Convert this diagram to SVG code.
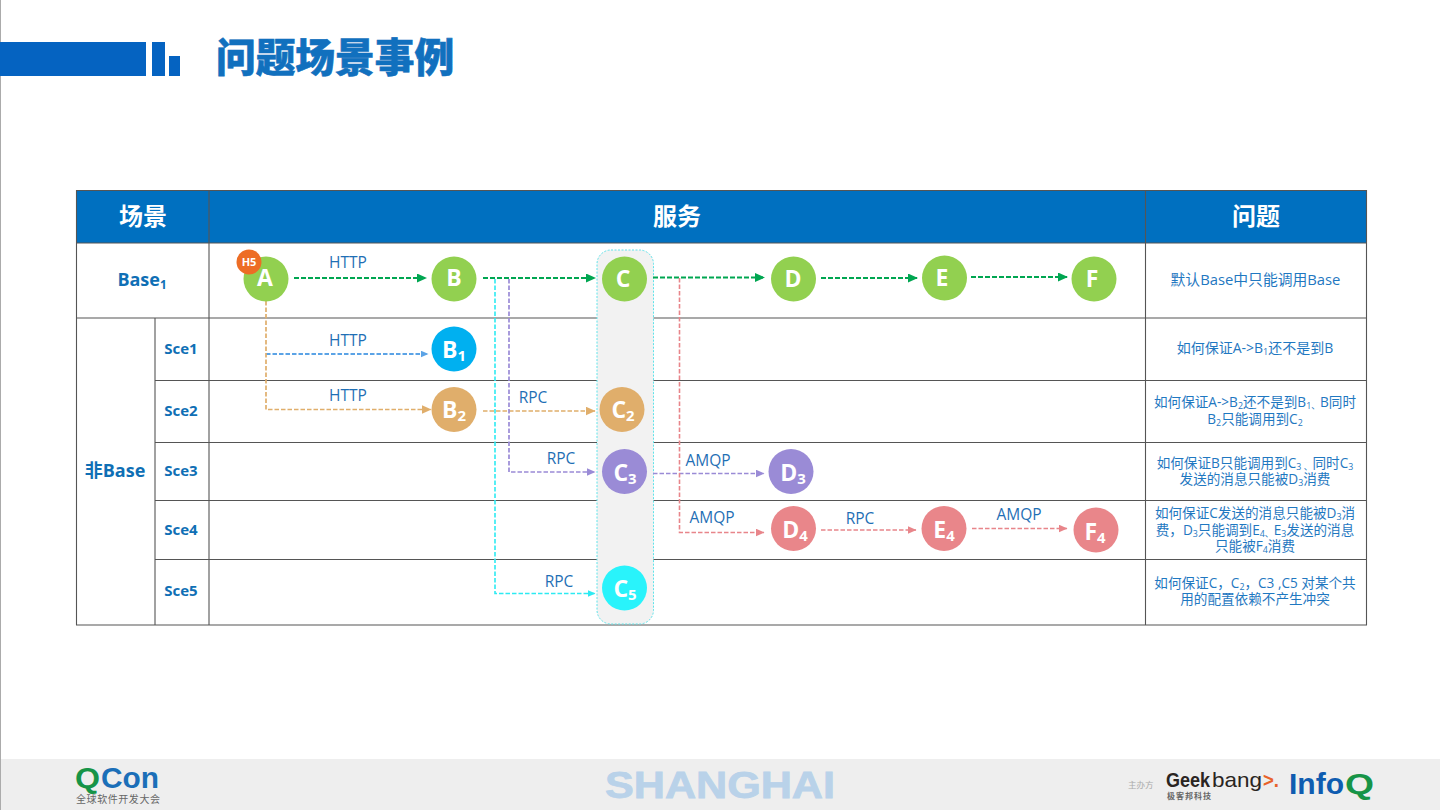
<svg xmlns="http://www.w3.org/2000/svg" width="1440" height="810" viewBox="0 0 1440 810">
<style>
text{font-family:"Open Sans","Noto Sans CJK SC",sans-serif}
.grid{stroke:#555;stroke-width:1.1;fill:none}
.th{fill:#fff;font-size:24px;font-weight:700;text-anchor:middle;font-family:"Noto Sans CJK SC",sans-serif}
.rowh{fill:#0F6FB5;font-size:15px;font-weight:700;text-anchor:middle}
.lab{fill:#1F6FB5;font-size:15.5px;text-anchor:middle}
.q{fill:#1F78C1;font-size:13.6px;text-anchor:middle;font-family:"Open Sans","Noto Sans CJK SC",sans-serif}
.n{fill:#fff;font-size:23px;font-weight:700;text-anchor:middle}
.s{font-size:65%;baseline-shift:-22%}
.logo{font-family:"Liberation Sans",sans-serif;font-weight:700}
.cjk{font-family:"Noto Sans CJK SC",sans-serif}
.c{fill:none;stroke-width:1.5;stroke-dasharray:4.500 2}
.g{stroke:#00A651;stroke-width:2;stroke-dasharray:5 2}.b{stroke:#5BA3E6;stroke-width:1.8}.o{stroke:#E0AE6B;stroke-width:1.7}.p{stroke:#9A8BD6;stroke-width:1.7}.r{stroke:#E8858A;stroke-width:1.6}.y{stroke:#2DEAF2;stroke-width:1.6}
</style>
<defs>
<marker id="mg" markerWidth="10" markerHeight="9" refX="9" refY="4.500" orient="auto" markerUnits="userSpaceOnUse"><path d="M0 0L10 4.500L0 9Z" fill="#00A651"/></marker>
<marker id="mb" markerWidth="8" markerHeight="7" refX="7.500" refY="3.500" orient="auto" markerUnits="userSpaceOnUse"><path d="M0 0L8 3.500L0 7Z" fill="#5BA3E6"/></marker>
<marker id="mo" markerWidth="10" markerHeight="9" refX="9.500" refY="4.500" orient="auto" markerUnits="userSpaceOnUse"><path d="M0 0L10 4.500L0 9Z" fill="#E0AE6B"/></marker>
<marker id="mp" markerWidth="9" markerHeight="8" refX="8.500" refY="4" orient="auto" markerUnits="userSpaceOnUse"><path d="M0 0L9 4L0 8Z" fill="#9A8BD6"/></marker>
<marker id="mr" markerWidth="9" markerHeight="8" refX="8.500" refY="4" orient="auto" markerUnits="userSpaceOnUse"><path d="M0 0L9 4L0 8Z" fill="#E8858A"/></marker>
<marker id="my" markerWidth="8" markerHeight="7" refX="7.500" refY="3.500" orient="auto" markerUnits="userSpaceOnUse"><path d="M0 0L8 3.500L0 7Z" fill="#2DEAF2"/></marker>
</defs>
<rect width="1440" height="810" fill="#fff"/>
<rect y="759" width="1440" height="51" fill="#EEEEEE"/>
<rect width="1" height="810" fill="#ABABAB"/>
<g id="title-bar" fill="#0563C1"><rect y="42" width="146" height="34"/><rect x="152" y="42" width="13" height="34"/><rect x="169" y="56" width="11" height="20"/></g>
<text class="cjk" x="216" y="71.500" font-size="39.700" font-weight="900" fill="#1170BE" stroke="#1170BE" stroke-width="0.600">问题场景事例</text>

<g id="table">
<rect x="77" y="191" width="1289" height="52" fill="#0070C0"/>
<path class="grid" d="M76.500 190.500H1366.500V625H76.500ZM76.500 243H1366.500M76.500 318H1366.500M155 380.500H1366.500M155 442.500H1366.500M155 500.500H1366.500M155 559.500H1366.500M155 318V625M209 191V625M1145.500 191V625"/>
<text class="th" x="143" y="225">场景</text><text class="th" x="677" y="225">服务</text><text class="th" x="1256" y="225">问题</text>
<text class="rowh" x="142" y="286" style="font-size:18px">Base<tspan class="s">1</tspan></text>
<text class="rowh" x="115" y="477" style="font-size:18px">非Base</text>
<text class="rowh" x="181" y="354">Sce1</text><text class="rowh" x="181" y="416">Sce2</text><text class="rowh" x="181" y="476">Sce3</text><text class="rowh" x="181" y="535">Sce4</text><text class="rowh" x="181" y="596">Sce5</text>
<text class="q" x="1255.500" y="285" style="font-size:14.800px">默认Base中只能调用Base</text>
<text class="q" x="1255" y="353" style="font-size:14px">如何保证A-&gt;B<tspan class="s">1</tspan>还不是到B</text>
<text class="q" x="1255" y="407">如何保证A-&gt;B<tspan class="s">2</tspan>还不是到B<tspan class="s">1、</tspan>B同时</text>
<text class="q" x="1255" y="424">B<tspan class="s">2</tspan>只能调用到C<tspan class="s">2</tspan></text>
<text class="q" x="1255" y="468">如何保证B只能调用到C<tspan class="s">3 、</tspan>同时C<tspan class="s">3</tspan></text>
<text class="q" x="1255" y="484">发送的消息只能被D<tspan class="s">3</tspan>消费</text>
<text class="q" x="1255" y="518">如何保证C发送的消息只能被D<tspan class="s">3</tspan>消</text>
<text class="q" x="1255" y="534.500">费，D<tspan class="s">3</tspan>只能调到E<tspan class="s">4、</tspan>E<tspan class="s">3</tspan>发送的消息</text>
<text class="q" x="1255" y="551">只能被F<tspan class="s">4</tspan>消费</text>
<text class="q" x="1255" y="588">如何保证C，C<tspan class="s">2</tspan>，C3 ,C5 对某个共</text>
<text class="q" x="1255" y="604">用的配置依赖不产生冲突</text>
</g>

<g id="group-c"><rect x="597" y="250" width="56.500" height="374" rx="14" fill="#F2F2F2" stroke="#5FE3EA" stroke-width="1" stroke-dasharray="2 1.500"/></g>

<g id="connectors">
<path class="c g" marker-end="url(#mg)" d="M294 278H426"/>
<path class="c g" marker-end="url(#mg)" d="M483 278H595"/>
<path class="c g" marker-end="url(#mg)" d="M653 277.500H764"/>
<path class="c g" marker-end="url(#mg)" d="M821 278H917"/>
<path class="c g" marker-end="url(#mg)" d="M971 277H1067"/>
<path class="c b" marker-end="url(#mb)" d="M266 354H428"/>
<path class="c o" marker-end="url(#mo)" d="M266 301V409.500H431"/>
<path class="c o" marker-end="url(#mo)" d="M483 411H595"/>
<path class="c y" marker-end="url(#my)" d="M495 279V593.500H595"/>
<path class="c p" marker-end="url(#mp)" d="M509 279V472H595"/>
<path class="c p" marker-end="url(#mp)" d="M653 473.500H764"/>
<path class="c r" marker-end="url(#mr)" d="M679.500 278V532.500H764"/>
<path class="c r" marker-end="url(#mr)" d="M821 530H916"/>
<path class="c r" marker-end="url(#mr)" d="M972 528.500H1067"/>
<text class="lab" x="348" y="268">HTTP</text><text class="lab" x="348" y="346">HTTP</text><text class="lab" x="348" y="401">HTTP</text>
<text class="lab" x="533" y="403">RPC</text><text class="lab" x="561" y="464">RPC</text><text class="lab" x="559" y="587">RPC</text>
<text class="lab" x="708" y="466">AMQP</text><text class="lab" x="712" y="523">AMQP</text><text class="lab" x="860" y="524">RPC</text><text class="lab" x="1019" y="520">AMQP</text>
</g>

<g id="node-A"><circle cx="266" cy="279" r="22.500" fill="#92D050"/><text class="n" x="265" y="286">A</text></g>
<g id="node-H5"><circle cx="249" cy="262" r="12.500" fill="#ED6D25"/><text x="249" y="266" fill="#fff" font-size="11" font-weight="700" text-anchor="middle">H5</text></g>
<g id="node-B"><circle cx="454" cy="279" r="22.500" fill="#92D050"/><text class="n" x="454" y="286">B</text></g>
<g id="node-C"><circle cx="624.500" cy="279" r="22.500" fill="#92D050"/><text class="n" x="623" y="287">C</text></g>
<g id="node-D"><circle cx="793.500" cy="279" r="22.500" fill="#92D050"/><text class="n" x="793" y="287">D</text></g>
<g id="node-E"><circle cx="944.500" cy="278" r="22.500" fill="#92D050"/><text class="n" x="942" y="286">E</text></g>
<g id="node-F"><circle cx="1094" cy="279" r="22.500" fill="#92D050"/><text class="n" x="1092" y="287">F</text></g>
<g id="node-B1"><circle cx="454" cy="349" r="22.500" fill="#00B0F0"/><text class="n" x="454" y="358">B<tspan class="s">1</tspan></text></g>
<g id="node-B2"><circle cx="454" cy="409.500" r="22.500" fill="#E0AE6B"/><text class="n" x="454" y="418">B<tspan class="s">2</tspan></text></g>
<g id="node-C2"><circle cx="622" cy="409.500" r="22.500" fill="#E0AE6B"/><text class="n" x="623" y="418">C<tspan class="s">2</tspan></text></g>
<g id="node-C3"><circle cx="624.500" cy="471.500" r="22.500" fill="#9A8BD6"/><text class="n" x="625" y="481">C<tspan class="s">3</tspan></text></g>
<g id="node-D3"><circle cx="791" cy="471.500" r="22.500" fill="#9A8BD6"/><text class="n" x="793" y="481">D<tspan class="s">3</tspan></text></g>
<g id="node-D4"><circle cx="793.500" cy="528.500" r="22.500" fill="#E9868A"/><text class="n" x="795" y="538">D<tspan class="s">4</tspan></text></g>
<g id="node-E4"><circle cx="944" cy="528.500" r="22.500" fill="#E9868A"/><text class="n" x="944" y="538">E<tspan class="s">4</tspan></text></g>
<g id="node-F4"><circle cx="1096" cy="530" r="22.500" fill="#E9868A"/><text class="n" x="1095" y="540">F<tspan class="s">4</tspan></text></g>
<g id="node-C5"><circle cx="624.500" cy="588" r="22.500" fill="#29F3FB"/><text class="n" x="625" y="597">C<tspan class="s">5</tspan></text></g>

<g id="footer">
<text class="logo" x="720" y="798" font-size="36" text-anchor="middle" fill="#B9D2E9" stroke="#B9D2E9" stroke-width="0.800" textLength="230" lengthAdjust="spacingAndGlyphs">SHANGHAI</text>
<text class="logo" x="75" y="788" font-size="29" fill="#169447" textLength="25" lengthAdjust="spacingAndGlyphs">Q</text>
<text class="logo" x="101" y="788" font-size="29" fill="#1B6FB8" textLength="58" lengthAdjust="spacingAndGlyphs">Con</text>
<text class="cjk" x="76" y="803" font-size="10" fill="#666" textLength="84">全球软件开发大会</text>
<text class="cjk" x="1128" y="788" font-size="8.500" fill="#AAA">主办方</text>
<text class="logo" x="1166" y="787" font-size="21" fill="#2A2522" textLength="44" lengthAdjust="spacingAndGlyphs">Geek</text>
<text class="logo" x="1212" y="787" font-size="21" fill="#2A2522" style="font-weight:400" textLength="50" lengthAdjust="spacingAndGlyphs">bang</text>
<text class="logo" x="1263" y="787" font-size="21" fill="#E8622A" textLength="16" lengthAdjust="spacingAndGlyphs">&gt;.</text>
<text class="cjk" x="1167" y="799" font-size="8" font-weight="700" fill="#666" textLength="44">极客邦科技</text>
<text class="logo" x="1289" y="794" font-size="29" fill="#0F5CB0" textLength="55" lengthAdjust="spacingAndGlyphs">Info</text>
<text class="logo" x="1345" y="794" font-size="29" fill="#169447" textLength="29" lengthAdjust="spacingAndGlyphs">Q</text>
</g>
</svg>
